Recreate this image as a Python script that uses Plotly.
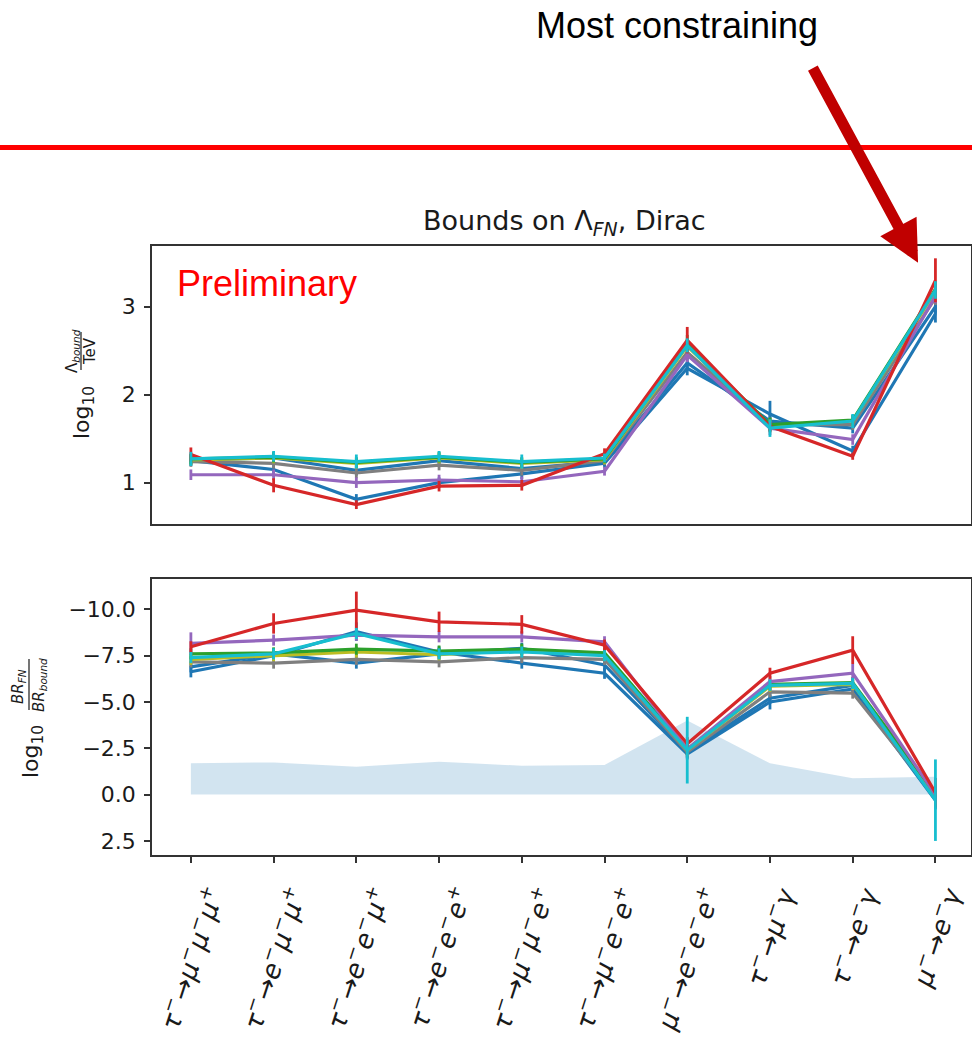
import plotly.graph_objects as go

# Decay channels (x axis)
channels = [
    "<i>τ</i><sup>−</sup>→<i>μ</i><sup>−</sup><i>μ</i><sup>−</sup><i>μ</i><sup>+</sup>",
    "<i>τ</i><sup>−</sup>→<i>e</i><sup>−</sup><i>μ</i><sup>−</sup><i>μ</i><sup>+</sup>",
    "<i>τ</i><sup>−</sup>→<i>e</i><sup>−</sup><i>e</i><sup>−</sup><i>μ</i><sup>+</sup>",
    "<i>τ</i><sup>−</sup>→<i>e</i><sup>−</sup><i>e</i><sup>−</sup><i>e</i><sup>+</sup>",
    "<i>τ</i><sup>−</sup>→<i>μ</i><sup>−</sup><i>μ</i><sup>−</sup><i>e</i><sup>+</sup>",
    "<i>τ</i><sup>−</sup>→<i>μ</i><sup>−</sup><i>e</i><sup>−</sup><i>e</i><sup>+</sup>",
    "<i>μ</i><sup>−</sup>→<i>e</i><sup>−</sup><i>e</i><sup>−</sup><i>e</i><sup>+</sup>",
    "<i>τ</i><sup>−</sup>→<i>μ</i><sup>−</sup><i>γ</i>",
    "<i>τ</i><sup>−</sup>→<i>e</i><sup>−</sup><i>γ</i>",
    "<i>μ</i><sup>−</sup>→<i>e</i><sup>−</sup><i>γ</i>",
]

# log10(Lambda_bound / TeV) per benchmark point, with uncertainties
lam_blue_a = [1.25, 1.15, 0.81, 1.00, 1.10, 1.22, 2.30, 1.78, 1.36, 2.92]
lam_blue_b = [1.26, 1.28, 1.14, 1.25, 1.16, 1.24, 2.36, 1.70, 1.62, 3.00]
lam_gray = [1.24, 1.22, 1.11, 1.20, 1.14, 1.25, 2.48, 1.66, 1.66, 3.10]
lam_olive = [1.26, 1.28, 1.22, 1.28, 1.22, 1.26, 2.55, 1.65, 1.70, 3.17]
lam_green = [1.27, 1.29, 1.23, 1.29, 1.23, 1.27, 2.58, 1.66, 1.71, 3.20]
lam_purple = [1.09, 1.09, 1.00, 1.03, 1.01, 1.13, 2.45, 1.62, 1.49, 3.12]
lam_red = [1.32, 0.97, 0.75, 0.96, 0.97, 1.33, 2.62, 1.64, 1.30, 3.30]
lam_cyan = [1.27, 1.30, 1.24, 1.30, 1.24, 1.28, 2.56, 1.62, 1.70, 3.19]

lam_err_blue_a = [0.06, 0.08, 0.06, 0.06, 0.06, 0.05, 0.08, 0.15, 0.06, 0.10]
lam_err_blue_b = [0.06, 0.06, 0.06, 0.06, 0.06, 0.05, 0.08, 0.08, 0.06, 0.08]
lam_err_gray = [0.06, 0.06, 0.06, 0.06, 0.06, 0.05, 0.08, 0.08, 0.06, 0.08]
lam_err_olive = [0.06, 0.06, 0.06, 0.06, 0.06, 0.05, 0.08, 0.08, 0.06, 0.08]
lam_err_green = [0.06, 0.06, 0.06, 0.06, 0.06, 0.05, 0.10, 0.08, 0.06, 0.08]
lam_err_purple = [0.06, 0.06, 0.06, 0.06, 0.06, 0.05, 0.08, 0.08, 0.06, 0.08]
lam_err_red = [0.08, 0.08, 0.05, 0.06, 0.06, 0.06, 0.15, 0.05, 0.04, 0.25]
lam_err_cyan = [0.08, 0.06, 0.08, 0.06, 0.08, 0.05, 0.08, 0.10, 0.08, 0.10]

# log10(BR_FN / BR_bound) per benchmark point, with uncertainties
br_blue_a = [-6.63, -7.50, -8.80, -7.70, -7.10, -6.55, -2.20, -5.00, -5.70, 0.30]
br_blue_b = [-6.90, -7.60, -7.10, -7.60, -7.90, -7.00, -2.30, -5.20, -5.90, 0.20]
br_gray = [-7.17, -7.10, -7.30, -7.17, -7.40, -7.30, -2.30, -5.55, -5.48, 0.10]
br_olive = [-7.30, -7.50, -7.70, -7.55, -7.80, -7.55, -2.40, -5.85, -5.95, 0.00]
br_green = [-7.60, -7.65, -7.85, -7.75, -7.85, -7.65, -2.45, -5.95, -6.05, -0.05]
br_purple = [-8.16, -8.34, -8.61, -8.52, -8.52, -8.25, -2.45, -6.10, -6.55, 0.00]
br_red = [-7.98, -9.24, -9.96, -9.33, -9.19, -8.07, -2.75, -6.55, -7.80, -0.10]
br_cyan = [-7.40, -7.60, -8.70, -7.60, -7.70, -7.50, -2.40, -5.90, -6.00, 0.30]

br_err_blue_a = [0.30, 0.30, 0.50, 0.30, 0.30, 0.30, 0.30, 0.40, 0.30, 0.50]
br_err_blue_b = [0.30, 0.30, 0.30, 0.30, 0.30, 0.30, 0.30, 0.30, 0.30, 0.40]
br_err_gray = [0.30, 0.30, 0.30, 0.30, 0.30, 0.30, 0.30, 0.30, 0.30, 0.40]
br_err_olive = [0.30, 0.30, 0.30, 0.30, 0.30, 0.30, 0.30, 0.30, 0.30, 0.40]
br_err_green = [0.30, 0.30, 0.30, 0.30, 0.30, 0.30, 0.30, 0.30, 0.30, 0.40]
br_err_purple = [0.60, 0.30, 0.30, 0.30, 0.30, 0.30, 0.30, 0.30, 0.50, 0.60]
br_err_red = [0.30, 0.55, 1.00, 0.55, 0.50, 0.30, 0.35, 0.30, 0.75, 0.80]
br_err_cyan = [0.30, 0.30, 0.30, 0.30, 0.30, 0.30, 1.80, 0.30, 0.30, 2.20]

# Shaded band in the lower panel
band_level = [-1.69, -1.74, -1.51, -1.78, -1.56, -1.60, -4.00, -1.69, -0.88, -0.97]

series = [
    ("#1f77b4", lam_blue_a, lam_err_blue_a, br_blue_a, br_err_blue_a),
    ("#1f77b4", lam_blue_b, lam_err_blue_b, br_blue_b, br_err_blue_b),
    ("#7f7f7f", lam_gray, lam_err_gray, br_gray, br_err_gray),
    ("#bcbd22", lam_olive, lam_err_olive, br_olive, br_err_olive),
    ("#2ca02c", lam_green, lam_err_green, br_green, br_err_green),
    ("#9467bd", lam_purple, lam_err_purple, br_purple, br_err_purple),
    ("#d62728", lam_red, lam_err_red, br_red, br_err_red),
    ("#17becf", lam_cyan, lam_err_cyan, br_cyan, br_err_cyan),
]

W, H = 972, 1043
ML, MR = 152, 1
PW = W - ML - MR
FONT = "DejaVu Sans"
INK = "#1a1a1a"


def px_x(p):
    return (p - ML) / PW


def px_y(p):
    return 1 - p / H


xs = list(range(len(channels)))

fig = go.Figure()

fig.add_trace(go.Scatter(
    x=xs, y=band_level, xaxis="x2", yaxis="y2", mode="lines",
    line=dict(width=0), fill="tozeroy", fillcolor="rgba(31,119,180,0.2)",
    showlegend=False, hoverinfo="skip",
))

for color, lam, lam_err, br, br_err in series:
    fig.add_trace(go.Scatter(
        x=xs, y=lam, xaxis="x", yaxis="y", mode="lines",
        line=dict(color=color, width=3.2),
        error_y=dict(type="data", array=lam_err, visible=True, width=0,
                     thickness=2.8, color=color),
        showlegend=False,
    ))
    fig.add_trace(go.Scatter(
        x=xs, y=br, xaxis="x2", yaxis="y2", mode="lines",
        line=dict(color=color, width=3.2),
        error_y=dict(type="data", array=br_err, visible=True, width=0,
                     thickness=2.8, color=color),
        showlegend=False,
    ))

frame = dict(showline=True, mirror=True, linecolor="#333333", linewidth=1.6,
             showgrid=False, zeroline=False)
xrange = [-0.47, 9.43]

fig.update_layout(
    width=W, height=H, autosize=False,
    margin=dict(l=ML, r=MR, t=0, b=0),
    paper_bgcolor="white", plot_bgcolor="white",
    font=dict(family=FONT, size=22, color=INK),
    xaxis=dict(domain=[0, 1], anchor="y", range=xrange, showticklabels=False,
               ticks="", **frame),
    yaxis=dict(domain=[px_y(524), px_y(246)], anchor="x", range=[0.53, 3.69],
               tickvals=[1, 2, 3], ticks="outside", ticklen=6, tickwidth=1.5,
               tickcolor="#333333", ticklabelstandoff=4, **frame),
    xaxis2=dict(domain=[0, 1], anchor="y2", range=xrange, tickvals=xs,
                showticklabels=False, ticks="outside", ticklen=6, tickwidth=1.5,
                tickcolor="#333333", **frame),
    yaxis2=dict(domain=[px_y(855), px_y(579)], anchor="x2", range=[3.26, -11.64],
                tickvals=[-10, -7.5, -5, -2.5, 0, 2.5], tickformat=".1f",
                ticks="outside", ticklen=6, tickwidth=1.5, tickcolor="#333333",
                ticklabelstandoff=4, **frame),
)

ann = []

# Rotated channel labels under the lower panel
for i, lab in enumerate(channels):
    ann.append(dict(x=i, xref="x2", y=px_y(880), yref="paper", text=lab,
                    textangle=-72, xanchor="center", yanchor="top",
                    showarrow=False, font=dict(family=FONT, size=26, color=INK)))

# Panel title
ann.append(dict(x=px_x(564), xref="paper", y=px_y(222), yref="paper",
                text="Bounds on Λ<sub><i>FN</i></sub>, Dirac", showarrow=False,
                xanchor="center", yanchor="middle",
                font=dict(family=FONT, size=27, color=INK)))

# Upper y-axis label: log10 (Λ_bound / TeV)
ann.append(dict(x=px_x(83), xref="paper", y=px_y(413), yref="paper",
                text="log<sub>10</sub>", textangle=-90, showarrow=False,
                xanchor="center", yanchor="middle",
                font=dict(family=FONT, size=22, color=INK)))
ann.append(dict(x=px_x(72), xref="paper", y=px_y(351), yref="paper",
                text="Λ<sub><i>bound</i></sub>", textangle=-90, showarrow=False,
                xanchor="center", yanchor="middle",
                font=dict(family=FONT, size=15, color=INK)))
ann.append(dict(x=px_x(90), xref="paper", y=px_y(351), yref="paper",
                text="TeV", textangle=-90, showarrow=False,
                xanchor="center", yanchor="middle",
                font=dict(family=FONT, size=15, color=INK)))

# Lower y-axis label: log10 (BR_FN / BR_bound)
ann.append(dict(x=px_x(32), xref="paper", y=px_y(752), yref="paper",
                text="log<sub>10</sub>", textangle=-90, showarrow=False,
                xanchor="center", yanchor="middle",
                font=dict(family=FONT, size=22, color=INK)))
ann.append(dict(x=px_x(18), xref="paper", y=px_y(687), yref="paper",
                text="<i>BR</i><sub><i>FN</i></sub>", textangle=-90, showarrow=False,
                xanchor="center", yanchor="middle",
                font=dict(family=FONT, size=15, color=INK)))
ann.append(dict(x=px_x(39), xref="paper", y=px_y(685), yref="paper",
                text="<i>BR</i><sub><i>bound</i></sub>", textangle=-90,
                showarrow=False, xanchor="center", yanchor="middle",
                font=dict(family=FONT, size=15, color=INK)))

# Watermark and callout
ann.append(dict(x=px_x(175), xref="paper", y=px_y(283), yref="paper",
                text="Preliminary", showarrow=False, xanchor="left",
                yanchor="middle",
                font=dict(family="Liberation Sans", size=36, color="#ff0000")))
ann.append(dict(x=px_x(677), xref="paper", y=px_y(25), yref="paper",
                text="Most constraining", showarrow=False, xanchor="center",
                yanchor="middle",
                font=dict(family="Liberation Sans", size=36, color="black")))
ann.append(dict(x=8.79, xref="x", y=3.5, yref="y", text="", showarrow=True,
                ax=-106, ay=-196, axref="pixel", ayref="pixel",
                arrowhead=2, arrowwidth=11, arrowsize=0.75, standoff=0,
                arrowcolor="#c00000"))

fig.update_layout(annotations=ann)

shapes = [
    # horizontal separator
    dict(type="line", xref="paper", yref="paper", x0=px_x(0), x1=px_x(W),
         y0=px_y(147.5), y1=px_y(147.5), line=dict(color="#ff0000", width=5)),
    # fraction bars of the y-axis labels
    dict(type="line", xref="paper", yref="paper", x0=px_x(81), x1=px_x(81),
         y0=px_y(332), y1=px_y(370), line=dict(color=INK, width=1.2)),
    dict(type="line", xref="paper", yref="paper", x0=px_x(29), x1=px_x(29),
         y0=px_y(659), y1=px_y(710), line=dict(color=INK, width=1.2)),
]
fig.update_layout(shapes=shapes)

fig.write_html("out.html", config={"displayModeBar": False})
